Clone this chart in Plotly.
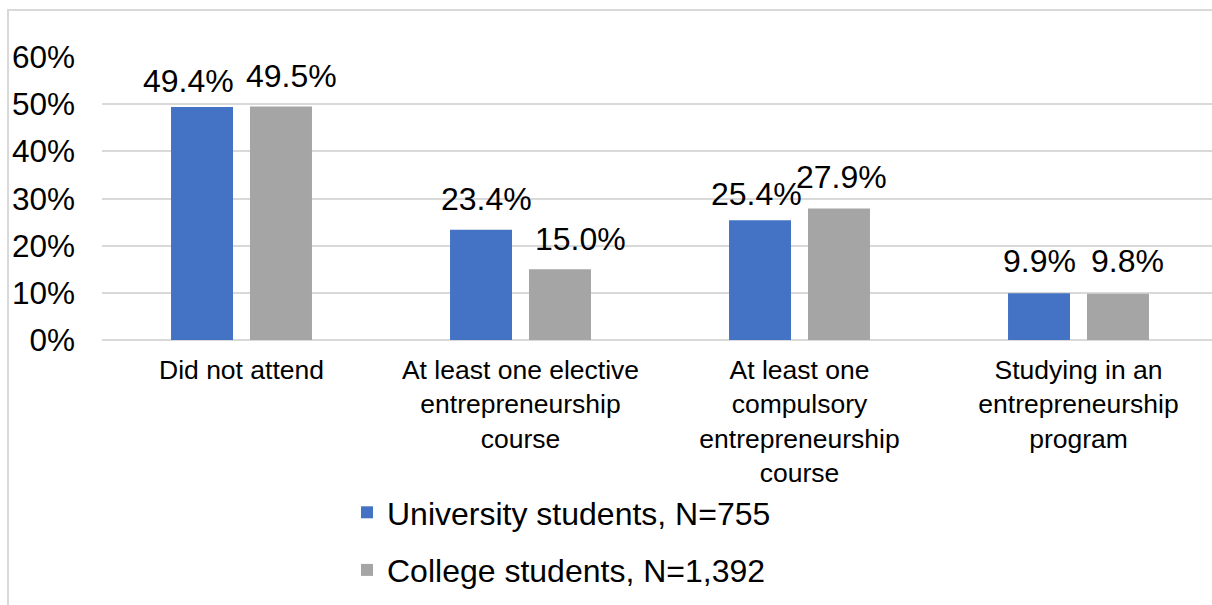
import plotly.graph_objects as go

categories = [
    "Did not attend",
    "At least one elective<br>entrepreneurship<br>course",
    "At least one<br>compulsory<br>entrepreneurship<br>course",
    "Studying in an<br>entrepreneurship<br>program",
]
university = [0.494, 0.234, 0.254, 0.099]
college = [0.495, 0.150, 0.279, 0.098]
series_names = ["University students, N=755", "College students, N=1,392"]
y_ticks = [0, 0.1, 0.2, 0.3, 0.4, 0.5, 0.6]
y_tick_labels = ["0%", "10%", "20%", "30%", "40%", "50%", "60%"]

# label nudges (pixels) as placed in the original chart, per series
uni_label_dx = [-14, 5, -4, 0]
uni_label_dy = [15, 20, 15, 21]
col_label_dx = [11, 21, 3, 10]
col_label_dy = [20, 19, 20, 22]

FONT = "Liberation Sans, Arial, sans-serif"
BARGAP = 0.434
BARGROUPGAP = 0.215
CAT_PX = 279.0

fig = go.Figure()
for name, vals, color, grp in [
    (series_names[0], university, "#4472C4", "a"),
    (series_names[1], college, "#A5A5A5", "b"),
]:
    fig.add_trace(go.Bar(
        x=categories, y=vals, name=name, marker_color=color,
        marker_line_width=0, legendgroup=grp,
    ))

# data labels placed over each bar (offset of each bar within its group)
slot = (1 - BARGAP) / 2
annotations = []
for k, (vals, dxs, dys) in enumerate([
    (university, uni_label_dx, uni_label_dy),
    (college, col_label_dx, col_label_dy),
]):
    off = (k - 0.5) * slot
    for i, v in enumerate(vals):
        annotations.append(dict(
            x=i + off, y=v, xref="x", yref="y",
            text=f"{v*100:.1f}%", showarrow=False,
            xanchor="center", yanchor="bottom",
            xshift=dxs[i], yshift=dys[i] - 9,
            font=dict(size=32, color="#000000", family=FONT),
        ))

W, H = 1212, 605
L, T = 102, 57
B = H - 340
pw = W - L
ph = H - T - B

def px(x):
    return (x - L) / pw

def py(y):
    return (H - B - y) / ph

fig.update_layout(
    width=W, height=H,
    margin=dict(l=L, r=0, t=T, b=B),
    paper_bgcolor="white", plot_bgcolor="white",
    barmode="group", bargap=BARGAP, bargroupgap=BARGROUPGAP,
    font=dict(family=FONT, color="#000000"),
    showlegend=True,
    annotations=annotations,
    legend=dict(
        orientation="v", x=px(347), xanchor="left", y=py(485), yanchor="top",
        font=dict(size=32, color="#000000", family=FONT),
        tracegroupgap=13, bgcolor="rgba(0,0,0,0)",
    ),
    xaxis=dict(
        range=[-0.5, -0.5 + pw / CAT_PX], showgrid=False, zeroline=False,
        showline=False, tickfont=dict(size=26.5, color="#000000", family=FONT),
        ticks="outside", ticklen=6, tickcolor="rgba(0,0,0,0)",
        fixedrange=True,
    ),
    yaxis=dict(
        range=[0, 0.6], tickvals=y_ticks, ticktext=y_tick_labels,
        showgrid=True, gridcolor="#D9D9D9", gridwidth=1.5,
        zeroline=True, zerolinecolor="#D9D9D9", zerolinewidth=1.5,
        showline=False, tickfont=dict(size=31.5, color="#000000", family=FONT),
        ticklabelstandoff=26, fixedrange=True,
    ),
    shapes=[dict(
        type="rect", xref="paper", yref="paper",
        x0=px(8), x1=px(1240), y0=py(640), y1=py(10),
        line=dict(color="#D9D9D9", width=2), fillcolor="rgba(0,0,0,0)",
        layer="below",
    )],
)

fig.write_html(
    "out.html",
    config={"displayModeBar": False},
    post_script="document.body.style.margin='0';"
                "document.documentElement.style.overflow='hidden';",
)
